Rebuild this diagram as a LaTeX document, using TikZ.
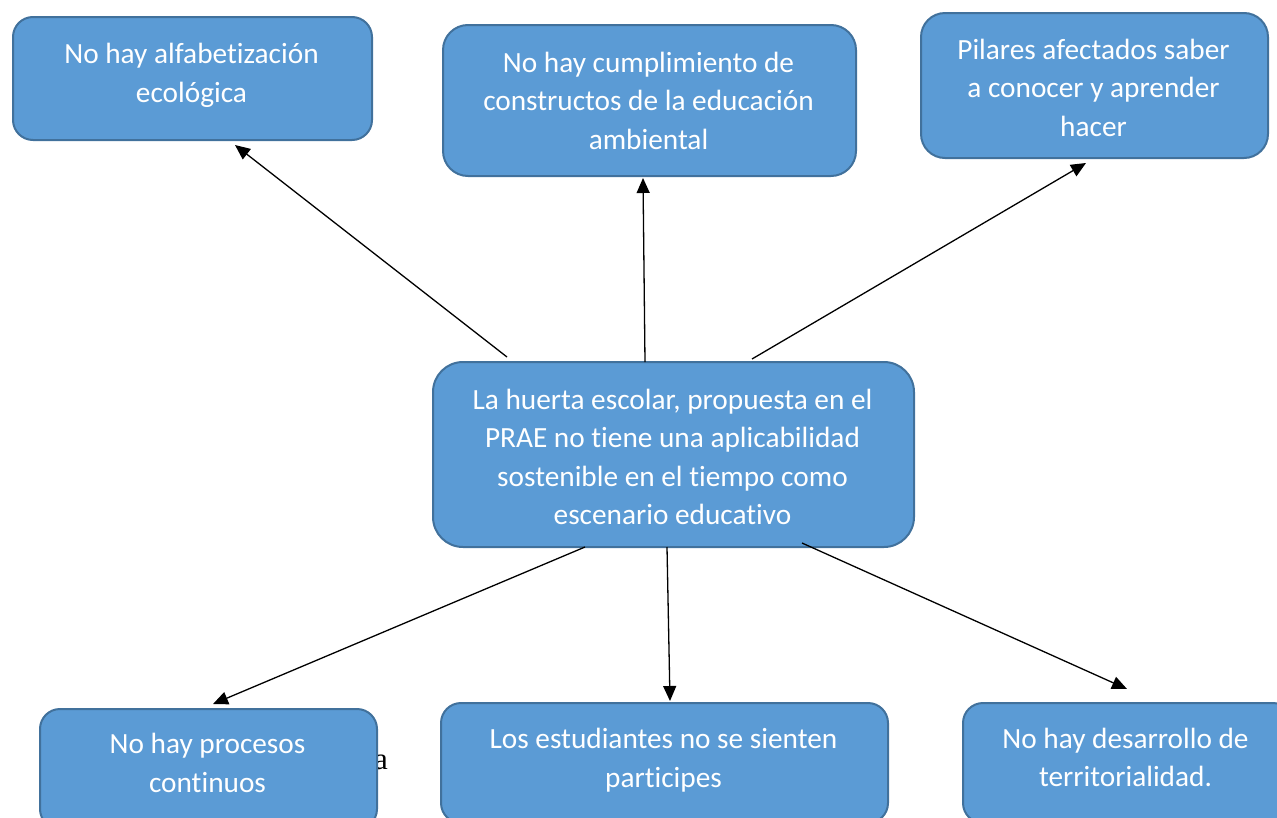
\documentclass[tikz,border=0pt]{standalone}
\usepackage{fontspec}
\setmainfont[Ligatures={NoCommon}]{Carlito}
\newfontfamily\serifa{Liberation Serif}
\usetikzlibrary{arrows.meta}
\definecolor{boxfill}{HTML}{5B9BD5}
\definecolor{boxline}{HTML}{41719C}
\tikzset{
  box/.style={draw=boxline, fill=boxfill, line width=2pt, inner sep=0pt, anchor=north west},
  txt/.style={text=white, align=center, inner sep=0pt, font=\fontsize{29.3}{38.5}\selectfont},
  arr/.style={line width=1.3pt, -{Triangle[length=15pt,width=13pt]}}
}
\begin{document}
\begin{tikzpicture}[x=1pt,y=-1pt]
\useasboundingbox (0,0) rectangle (1277,817);
\clip (0,0) rectangle (1277,817);
% stray letter
\node[anchor=base west, inner sep=0pt, font=\serifa\fontsize{31}{31}\selectfont] (stray) at (374,769) {a};
% boxes
\node[box, rounded corners=20pt, minimum width=359pt, minimum height=123pt] (b1) at (12,16) {};
\node[box, rounded corners=25pt, minimum width=413pt, minimum height=151pt] (b2) at (442,24) {};
\node[box, rounded corners=24pt, minimum width=347pt, minimum height=145pt] (b3) at (920,12) {};
\node[box, rounded corners=30pt, minimum width=481pt, minimum height=185pt] (c) at (432,361) {};
\node[box, rounded corners=20pt, minimum width=337pt, minimum height=120pt] (b4) at (39,708) {};
\node[box, rounded corners=20pt, minimum width=447pt, minimum height=120pt] (b5) at (440,702) {};
\node[box, rounded corners=20pt, minimum width=330pt, minimum height=120pt] (b6) at (962,702) {};
% texts
\node[txt] (t1) at (191.5,75.5) {No hay alfabetización\\ecológica};
\node[txt] (t2) at (648.5,100.5) {No hay cumplimiento de\\constructos de la educación\\ambiental};
\node[txt] (t3) at (1093.5,87.5) {Pilares afectados saber\\a conocer y aprender\\hacer};
\node[txt] (tc) at (672.5,457) {La huerta escolar, propuesta en el\\PRAE no tiene una aplicabilidad\\sostenible en el tiempo como\\escenario educativo};
\node[txt] (t4) at (207.5,763) {No hay procesos\\continuos};
\node[txt] (t5) at (663.5,760) {Los estudiantes no se sienten\\participes};
\node[txt] (t6) at (1125.5,757.5) {No hay desarrollo de\\territorialidad.};
% connector end points
\coordinate (s1) at (507,357);
\coordinate (e1) at (235,145);
\coordinate (s2) at (645,362);
\coordinate (e2) at (643,178);
\coordinate (s3) at (752,359);
\coordinate (e3) at (1086,163);
\coordinate (s4) at (585,547);
\coordinate (e4) at (213,704);
\coordinate (s5) at (667,547);
\coordinate (e5) at (670,701);
\coordinate (s6) at (802,543);
\coordinate (e6) at (1127,689);
\draw[arr] (s1) -- (e1);
\draw[arr] (s2) -- (e2);
\draw[arr] (s3) -- (e3);
\draw[arr] (s4) -- (e4);
\draw[arr] (s5) -- (e5);
\draw[arr] (s6) -- (e6);
\end{tikzpicture}
\end{document}
